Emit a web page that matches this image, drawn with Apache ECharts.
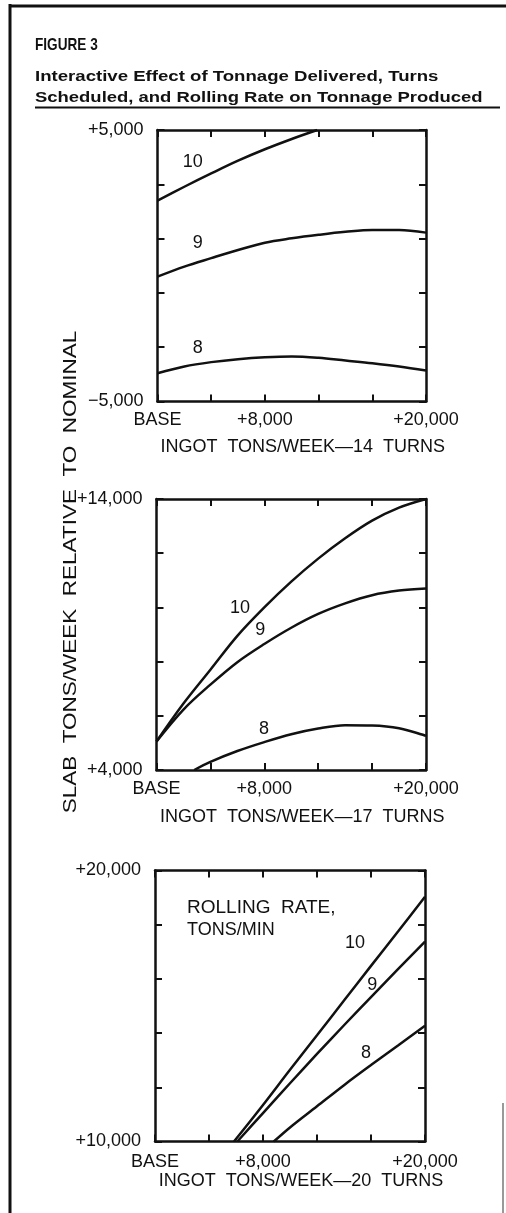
<!DOCTYPE html>
<html>
<head>
<meta charset="utf-8">
<title>Figure 3</title>
<script src="https://cdn.jsdelivr.net/npm/echarts@6/dist/echarts.min.js"></script>
<style>
  html, body { margin: 0; padding: 0; background: #fff; }
  #chart { width: 506px; height: 1213px; }
</style>
</head>
<body>
<div id="chart"></div>
<script>
// x: ingot tons/week over base, y: slab tons/week relative to nominal
const rollingRates = ['10', '9', '8'];
const turns = ['14', '17', '20'];
const xTickValues = [0, 8000, 20000];
const xTickLabels = ['BASE', '+8,000', '+20,000'];

// 14 turns
const yRange14 = [-5000, 5000];
const yTickLabels14 = ['−5,000', '+5,000'];
const turns14Rate10 = [[0, 2400], [2000, 2910], [4000, 3400], [6000, 3870], [8000, 4290], [10000, 4670], [11900, 5000]];
const turns14Rate9 = [[0, -400], [2000, -30], [4000, 280], [6000, 580], [8000, 850], [10000, 1010], [12000, 1140], [14000, 1250], [16000, 1320], [18000, 1320], [20000, 1220]];
const turns14Rate8 = [[0, -3960], [2000, -3710], [4000, -3550], [6000, -3440], [8000, -3370], [10000, -3340], [12000, -3390], [14000, -3490], [16000, -3590], [18000, -3710], [20000, -3860]];

// 17 turns
const yRange17 = [4000, 14000];
const yTickLabels17 = ['+4,000', '+14,000'];
const turns17Rate10 = [[0, 5050], [2000, 6450], [4000, 7700], [6000, 8950], [8000, 10000], [10000, 10950], [12000, 11800], [14000, 12550], [16000, 13200], [18000, 13680], [20000, 14000]];
const turns17Rate9 = [[0, 5050], [2000, 6230], [4000, 7150], [6000, 7980], [8000, 8650], [10000, 9250], [12000, 9760], [14000, 10150], [16000, 10450], [18000, 10620], [20000, 10700]];
const turns17Rate8 = [[2800, 4000], [4000, 4300], [6000, 4700], [8000, 5030], [10000, 5320], [12000, 5530], [14000, 5650], [16000, 5640], [18000, 5540], [20000, 5260]];

// 20 turns
const yRange20 = [10000, 20000];
const yTickLabels20 = ['+10,000', '+20,000'];
const turns20Rate10 = [[5850, 10000], [8000, 11350], [10000, 12650], [12000, 13920], [14000, 15200], [16000, 16480], [18000, 17750], [20000, 19030]];
const turns20Rate9 = [[6100, 10000], [8000, 11050], [10000, 12150], [12000, 13230], [14000, 14290], [16000, 15330], [18000, 16360], [20000, 17380]];
const turns20Rate8 = [[8800, 10000], [10000, 10520], [12000, 11300], [14000, 12080], [16000, 12820], [18000, 13540], [20000, 14270]];

const FONT = "'Liberation Sans', Arial, Helvetica, sans-serif";
const INK = '#111';

// layout of the three panels (pixels) and where the curve numbers sit (data coords)
const panels = [
  {
    yRange: yRange14, yLabels: yTickLabels14,
    lines: [turns14Rate10, turns14Rate9, turns14Rate8],
    grid: { left: 157.5, top: 130, width: 268.5, height: 271.5 },
    nameGap: 37, labelMargin: 10,
    tags: [[2630, 3820], [3000, 840], [3000, -3020]]
  },
  {
    yRange: yRange17, yLabels: yTickLabels17,
    lines: [turns17Rate10, turns17Rate9, turns17Rate8],
    grid: { left: 156.5, top: 499, width: 269.5, height: 271 },
    nameGap: 38, labelMargin: 10,
    tags: [[6190, 9980], [7700, 9150], [7970, 5510]]
  },
  {
    yRange: yRange20, yLabels: yTickLabels20,
    lines: [turns20Rate10, turns20Rate9, turns20Rate8],
    grid: { left: 155, top: 870.5, width: 270, height: 271 },
    nameGap: 30, labelMargin: 12,
    tags: [[14810, 17330], [16100, 15780], [15630, 13270]]
  }
];

const axisLine = { show: true, onZero: false, lineStyle: { color: INK, width: 2.5 } };
const axisTick = { show: true, inside: true, length: 7, lineStyle: { color: INK, width: 2 } };
const labelFont = { fontFamily: FONT, fontSize: 18, color: INK };

const grids = [];
const xAxes = [];
const yAxes = [];
const series = [];

panels.forEach((p, i) => {
  grids.push(Object.assign({ containLabel: false }, p.grid));
  const [yMin, yMax] = p.yRange;

  // bottom and top x axes
  xAxes.push({
    type: 'value', gridIndex: i, position: 'bottom', min: 0, max: 20000, interval: 4000,
    axisLine, axisTick, splitLine: { show: false },
    axisLabel: Object.assign({}, labelFont, {
      margin: p.labelMargin,
      formatter: v => {
        const k = xTickValues.indexOf(v);
        return k >= 0 ? xTickLabels[k] : '';
      }
    }),
    name: 'INGOT  TONS/WEEK—' + turns[i] + '  TURNS',
    nameLocation: 'middle', nameGap: p.nameGap,
    nameTextStyle: { fontFamily: FONT, fontSize: 18, color: INK, padding: [0, 0, 0, 22] }
  });
  xAxes.push({
    type: 'value', gridIndex: i, position: 'top', min: 0, max: 20000, interval: 4000,
    axisLine, axisTick, splitLine: { show: false }, axisLabel: { show: false }
  });

  // left and right y axes
  yAxes.push({
    type: 'value', gridIndex: i, position: 'left', min: yMin, max: yMax, interval: 2000,
    axisLine, axisTick, splitLine: { show: false },
    axisLabel: Object.assign({}, labelFont, {
      margin: 14,
      formatter: v => (v === yMin ? p.yLabels[0] : v === yMax ? p.yLabels[1] : '')
    })
  });
  yAxes.push({
    type: 'value', gridIndex: i, position: 'right', min: yMin, max: yMax, interval: 2000,
    axisLine, axisTick, splitLine: { show: false }, axisLabel: { show: false }
  });

  p.lines.forEach((data, j) => {
    const marks = [{ coord: p.tags[j], label: { formatter: rollingRates[j] } }];
    if (i === 2 && j === 0) {
      marks.push({ coord: [2370, 18620], label: { formatter: 'ROLLING  RATE,', align: 'left', fontSize: 19 } });
      marks.push({ coord: [2370, 17810], label: { formatter: 'TONS/MIN', align: 'left', fontSize: 18 } });
    }
    series.push({
      name: turns[i] + ' turns, ' + rollingRates[j] + ' tons/min',
      type: 'line',
      xAxisIndex: i * 2,
      yAxisIndex: i * 2,
      data,
      smooth: 0.35,
      showSymbol: false,
      clip: true,
      silent: true,
      lineStyle: { color: INK, width: 2.5 },
      markPoint: {
        symbol: 'rect', symbolSize: 0, silent: true,
        label: { show: true, position: 'inside', fontFamily: FONT, fontSize: 18, color: INK },
        data: marks
      }
    });
  });
});

const option = {
  animation: false,
  backgroundColor: '#fff',
  textStyle: { fontFamily: FONT, color: INK },
  grid: grids,
  xAxis: xAxes,
  yAxis: yAxes,
  series,
  graphic: [
    // page frame
    { type: 'line', shape: { x1: 10, y1: 4, x2: 10, y2: 1213 }, style: { stroke: INK, lineWidth: 3 } },
    { type: 'line', shape: { x1: 10, y1: 6, x2: 506, y2: 6 }, style: { stroke: INK, lineWidth: 3 } },
    { type: 'line', shape: { x1: 503, y1: 1103, x2: 503, y2: 1213 }, style: { stroke: '#555', lineWidth: 1.2 } },
    // headings
    {
      type: 'text', x: 35, y: 45, scaleX: 0.8,
      style: { text: 'FIGURE 3', font: 'bold 17px ' + FONT, fill: INK, verticalAlign: 'middle' }
    },
    {
      type: 'text', x: 35, y: 77, scaleX: 1.24,
      style: { text: 'Interactive Effect of Tonnage Delivered, Turns', font: 'bold 15px ' + FONT, fill: INK, verticalAlign: 'middle' }
    },
    {
      type: 'text', x: 35, y: 98, scaleX: 1.23,
      style: { text: 'Scheduled, and Rolling Rate on Tonnage Produced', font: 'bold 15px ' + FONT, fill: INK, verticalAlign: 'middle' }
    },
    { type: 'line', shape: { x1: 35, y1: 107.5, x2: 500, y2: 107.5 }, style: { stroke: INK, lineWidth: 2 } },
    // shared y axis title
    {
      type: 'text', x: 71.5, y: 572, rotation: Math.PI / 2, scaleX: 1.25,
      style: { text: 'SLAB  TONS/WEEK  RELATIVE  TO  NOMINAL', font: '18px ' + FONT, fill: INK, align: 'center', verticalAlign: 'middle' }
    }
  ]
};

const chart = echarts.init(document.getElementById('chart'), null, { renderer: 'canvas' });
chart.setOption(option);
</script>
</body>
</html>
